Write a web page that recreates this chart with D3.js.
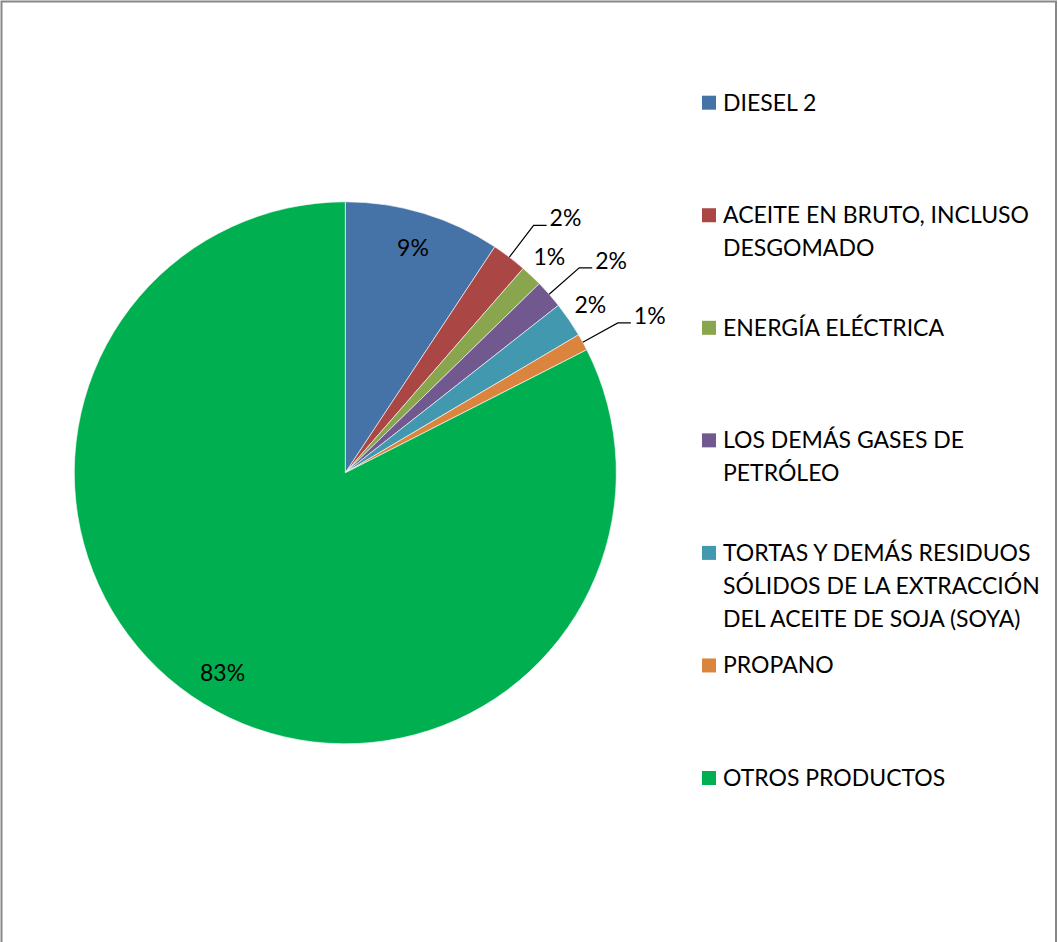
<!DOCTYPE html>
<html><head><meta charset="utf-8">
<script src="https://cdn.jsdelivr.net/npm/d3@7"></script>
<style>body{margin:0;background:#fff}svg{display:block}text{font-family:Lato,"Open Sans",sans-serif;fill:#000}</style>
</head><body><svg id="c" width="1058" height="942"></svg>
<script>
const categories = ["DIESEL 2","ACEITE EN BRUTO, INCLUSO DESGOMADO","ENERGÍA ELÉCTRICA","LOS DEMÁS GASES DE PETRÓLEO","TORTAS Y DEMÁS RESIDUOS SÓLIDOS DE LA EXTRACCIÓN DEL ACEITE DE SOJA (SOYA)","PROPANO","OTROS PRODUCTOS"];
const values = [9.3, 2.1, 1.3, 1.7, 2.1, 1.0, 82.5];
const colors = ["#4572A7","#AA4643","#89A54E","#71588F","#4198AF","#DB843D","#00B050"];

const svg = d3.select("#c");
const FS = 23;
svg.append("rect").attr("x",1.5).attr("y",1.5).attr("width",1054.5).attr("height",1000)
  .attr("fill","#fff").attr("stroke","#888").attr("stroke-width",2);

const cx = 345.3, cy = 472.8, R = 271;
const total = d3.sum(values);
const pie = d3.pie().sort(null).value(d => d)(values);
const arc = d3.arc().innerRadius(0).outerRadius(R);
const color = d3.scaleOrdinal().domain(categories).range(colors);
const g = svg.append("g").attr("transform",`translate(${cx},${cy})`);
g.selectAll("path").data(pie).join("path")
  .attr("d", arc).attr("fill",(d,i)=>color(categories[i]))
  .attr("stroke","#fff").attr("stroke-width",0.6);

const pt = (a,r)=>[r*Math.sin(a), -r*Math.cos(a)];
let outIdx = 0;
pie.forEach((d,i)=>{
  const pct = Math.round(values[i]*100/total) + "%";
  const mid = (d.startAngle + d.endAngle)/2;
  if (values[i]*100/total > 5) {
    const [x,y] = pt(mid, 235);
    g.append("text").attr("x",x).attr("y",y).attr("dy","0.36em").attr("text-anchor","middle")
      .attr("font-size",FS).text(pct);
  } else {
    if (outIdx % 2 === 0) {
      const [x0,y0] = pt(mid, R);
      const [x1,y1] = pt(mid, R+40);
      g.append("polyline").attr("points",[[x0,y0],[x1,y1],[x1+13,y1]].map(p=>p.join(",")).join(" "))
        .attr("fill","none").attr("stroke","#000").attr("stroke-width",1.2);
      g.append("text").attr("x",x1+16).attr("y",y1-7.5).attr("dy","0.36em")
        .attr("font-size",FS).text(pct);
    } else {
      const [x,y] = pt(mid, 297);
      g.append("text").attr("x",x).attr("y",y).attr("dy","0.36em").attr("text-anchor","middle")
        .attr("font-size",FS).text(pct);
    }
    outIdx++;
  }
});

// legend
const lg = svg.append("g");
const maxW = 326, lineH = 32.8;
categories.forEach((c,i)=>{
  const base = 110.7 + i*112.55;
  lg.append("rect").attr("x",702).attr("y",base-15).attr("width",14).attr("height",14).attr("fill",color(c));
  const t = lg.append("text").attr("x",723).attr("y",base).attr("font-size",FS);
  const words = c.split(" ");
  let line = [], ln = 0;
  let ts = t.append("tspan").attr("x",723).attr("y",base);
  words.forEach(w=>{
    line.push(w);
    ts.text(line.join(" "));
    if (ts.node().getComputedTextLength() > maxW && line.length > 1) {
      line.pop(); ts.text(line.join(" "));
      line = [w]; ln++;
      ts = t.append("tspan").attr("x",723).attr("y",base + ln*lineH).text(w);
    }
  });
});
</script></body></html>
